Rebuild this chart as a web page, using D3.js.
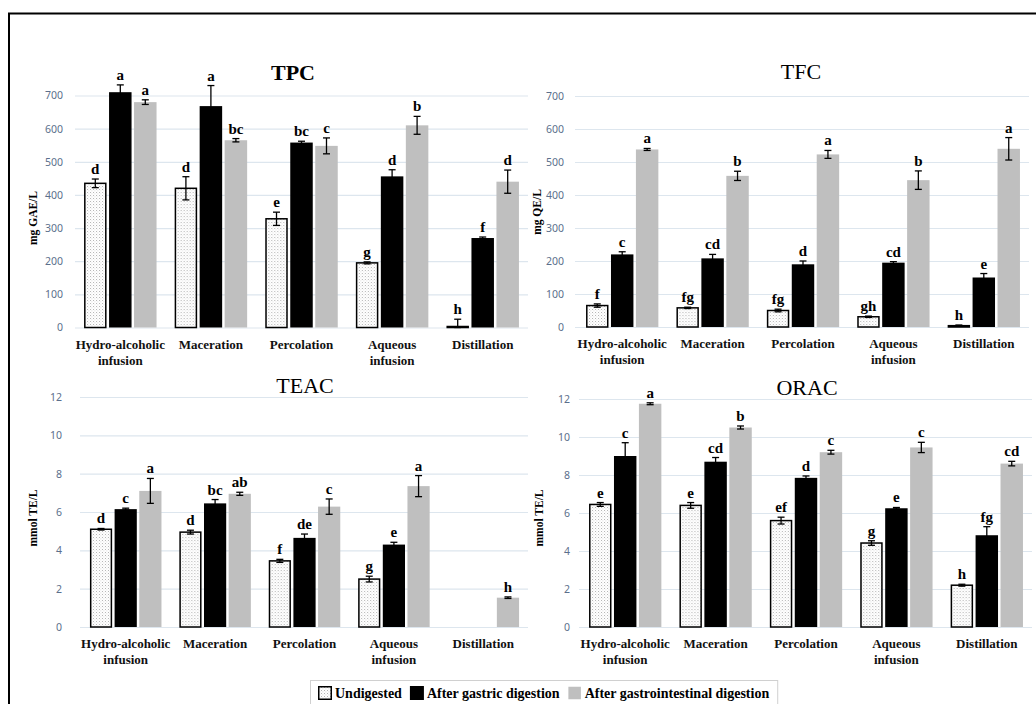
<!DOCTYPE html>
<html>
<head>
<meta charset="utf-8">
<script src="https://cdn.jsdelivr.net/npm/d3@7/dist/d3.min.js"></script>
<style>
  body { margin: 0; background: #fff; }
  svg { display: block; }
</style>
</head>
<body>
<div id="chart"></div>
<script>
// x categories (each as label lines)
var categories = [['Hydro-alcoholic', 'infusion'], ['Maceration'], ['Percolation'], ['Aqueous', 'infusion'], ['Distillation']];
var seriesNames = ['Undigested', 'After gastric digestion', 'After gastrointestinal digestion'];

// TPC, mg GAE/L  [undigested, gastric, gastrointestinal] per category
var tpcValues  = [[435, 710, 680], [420, 668, 565], [328, 558, 548], [195, 456, 610], [3, 270, 440]];
var tpcErrors  = [[13, 22, 7], [35, 62, 5], [20, 4, 24], [3, 20, 27], [22, 3, 35]];
var tpcLetters = [['d', 'a', 'a'], ['d', 'a', 'bc'], ['e', 'bc', 'c'], ['g', 'd', 'b'], ['h', 'f', 'd']];
var tpcTicks   = [0, 100, 200, 300, 400, 500, 600, 700];

// TFC, mg QE/L
var tfcValues  = [[65, 220, 538], [58, 208, 458], [50, 190, 523], [31, 195, 445], [4, 150, 540]];
var tfcErrors  = [[5, 8, 3], [2, 12, 14], [4, 10, 12], [2, 3, 28], [2, 12, 34]];
var tfcLetters = [['f', 'c', 'a'], ['fg', 'cd', 'b'], ['fg', 'd', 'a'], ['gh', 'cd', 'b'], ['h', 'e', 'a']];
var tfcTicks   = [0, 100, 200, 300, 400, 500, 600, 700];

// TEAC, mmol TE/L (no value for distillation before gastrointestinal digestion)
var teacValues  = [[5.1, 6.15, 7.1], [4.95, 6.45, 6.95], [3.45, 4.65, 6.28], [2.5, 4.3, 7.35], [null, null, 1.53]];
var teacErrors  = [[0.04, 0.05, 0.65], [0.1, 0.2, 0.08], [0.08, 0.2, 0.4], [0.15, 0.12, 0.55], [0, 0, 0.04]];
var teacLetters = [['d', 'c', 'a'], ['d', 'bc', 'ab'], ['f', 'de', 'c'], ['g', 'e', 'a'], ['', '', 'h']];
var teacTicks   = [0, 2, 4, 6, 8, 10, 12];

// ORAC, mmol TE/L
var oracValues  = [[6.45, 9.0, 11.75], [6.4, 8.7, 10.5], [5.6, 7.85, 9.2], [4.42, 6.25, 9.45], [2.2, 4.83, 8.6]];
var oracErrors  = [[0.1, 0.7, 0.05], [0.15, 0.22, 0.08], [0.18, 0.1, 0.1], [0.12, 0.04, 0.27], [0.05, 0.45, 0.12]];
var oracLetters = [['e', 'c', 'a'], ['e', 'cd', 'b'], ['ef', 'd', 'c'], ['g', 'e', 'c'], ['h', 'fg', 'cd']];
var oracTicks   = [0, 2, 4, 6, 8, 10, 12];

var serif = '"Liberation Serif", "DejaVu Serif", serif';
var sans = '"Noto Sans", "Open Sans", sans-serif';
var barFill = ['url(#dots)', '#000', '#bfbfbf'];

var svg = d3.select('#chart')
            .append('svg')
            .attr('width', 1036)
            .attr('height', 704);

// fine stipple for the undigested bars
var pat = svg.append('defs').append('pattern')
    .attr('id', 'dots')
    .attr('patternUnits', 'userSpaceOnUse')
    .attr('width', 3).attr('height', 3);
pat.append('rect').attr('width', 3).attr('height', 3).attr('fill', '#fff');
pat.append('rect').attr('x', 0).attr('y', 0).attr('width', 1).attr('height', 1).attr('fill', '#b4b4b4');
pat.append('rect').attr('x', 1.5).attr('y', 1.5).attr('width', 0.8).attr('height', 0.8).attr('fill', '#c8c8c8');

// frame round the figure (right and bottom edges fall outside the picture)
svg.append('rect')
    .attr('x', 9).attr('y', 13.5)
    .attr('width', 1040).attr('height', 720)
    .attr('fill', 'none').attr('stroke', '#000').attr('stroke-width', 2);

function drawPanel(p) {
    var g = svg.append('g');

    var x0 = d3.scaleBand()
        .domain(d3.range(categories.length))
        .range(p.xr)
        .paddingInner(0.2)
        .paddingOuter(0.1);
    var x1 = d3.scaleBand()
        .domain(d3.range(seriesNames.length))
        .range([0, x0.bandwidth()])
        .paddingInner(0.1);
    var y = d3.scaleLinear().domain(p.domain).range(p.yr);

    // gridlines + tick labels
    var axis = g.append('g')
        .attr('transform', 'translate(' + p.gridX + ',0)')
        .call(d3.axisLeft(y)
            .tickValues(p.ticks)
            .tickSize(-(p.xr[1] - p.gridX))
            .tickSizeOuter(0)
            .tickPadding(p.pad));
    axis.select('.domain').remove();
    axis.selectAll('.tick line').attr('stroke', '#dde6ee').attr('stroke-width', 1.2);
    axis.selectAll('.tick text')
        .attr('fill', '#5b6f8c')
        .style('font-family', sans)
        .style('font-size', '10.5px');

    // bars
    var groups = g.selectAll('g.cat')
        .data(p.values)
        .enter()
        .append('g')
        .attr('transform', function(d, i) { return 'translate(' + x0(i) + ',0)'; });

    groups.each(function(vals, ci) {
        var gg = d3.select(this);
        vals.forEach(function(v, si) {
            if (v === null) return;
            var bx = x1(si), bw = x1.bandwidth();
            var r = gg.append('rect')
                .attr('x', bx)
                .attr('y', y(v))
                .attr('width', bw)
                .attr('height', y(0) - y(v))
                .attr('fill', barFill[si]);
            if (si === 0) {
                r.attr('x', bx + 0.75).attr('width', bw - 1.5)
                 .attr('stroke', '#000').attr('stroke-width', 1.5);
            }
            var e = p.errors[ci][si];
            var cx = bx + bw / 2;
            var top = y(v + e), bot = y(Math.max(v - e, 0));
            var eg = gg.append('g').attr('stroke', '#000').attr('stroke-width', 1.3);
            eg.append('line').attr('x1', cx).attr('x2', cx).attr('y1', top).attr('y2', bot);
            eg.append('line').attr('x1', cx - 3.5).attr('x2', cx + 3.5).attr('y1', top).attr('y2', top);
            eg.append('line').attr('x1', cx - 3.5).attr('x2', cx + 3.5).attr('y1', bot).attr('y2', bot);

            gg.append('text')
                .attr('x', cx)
                .attr('y', top - 5)
                .attr('text-anchor', 'middle')
                .style('font-family', serif)
                .style('font-weight', 'bold')
                .style('font-size', '15px')
                .text(p.letters[ci][si]);
        });
    });

    // category labels
    groups.each(function(d, ci) {
        var t = d3.select(this).append('text')
            .attr('text-anchor', 'middle')
            .style('font-family', serif)
            .style('font-weight', 'bold')
            .style('font-size', '13px')
            .attr('fill', '#111');
        categories[ci].forEach(function(s, k) {
            t.append('tspan')
                .attr('x', x0.bandwidth() / 2)
                .attr('y', p.yr[0] + 21 + k * 16)
                .text(s);
        });
    });

    // y axis title
    g.append('text')
        .attr('transform', 'translate(' + p.labelX + ',' + p.labelY + ') rotate(-90)')
        .attr('text-anchor', 'middle')
        .style('font-family', serif)
        .style('font-weight', 'bold')
        .style('font-size', '11.5px')
        .text(p.yLabel);

    // panel title
    g.append('text')
        .attr('x', p.titleX)
        .attr('y', p.titleY)
        .attr('text-anchor', 'middle')
        .style('font-family', serif)
        .style('font-weight', p.titleBold ? 'bold' : 'normal')
        .style('font-size', '22px')
        .text(p.title);
}

drawPanel({ title: 'TPC', titleBold: true, titleX: 293, titleY: 80, yLabel: 'mg GAE/L', labelX: 37, labelY: 218,
            values: tpcValues, errors: tpcErrors, letters: tpcLetters, ticks: tpcTicks, domain: [0, 700],
            xr: [75, 528], gridX: 75, pad: 12, yr: [327.5, 95.5] });
drawPanel({ title: 'TFC', titleBold: false, titleX: 801, titleY: 79, yLabel: 'mg QE/L', labelX: 541, labelY: 212,
            values: tfcValues, errors: tfcErrors, letters: tfcLetters, ticks: tfcTicks, domain: [0, 700],
            xr: [577, 1029], gridX: 575, pad: 11, yr: [327, 96] });
drawPanel({ title: 'TEAC', titleBold: false, titleX: 305, titleY: 393, yLabel: 'mmol TE/L', labelX: 37, labelY: 518,
            values: teacValues, errors: teacErrors, letters: teacLetters, ticks: teacTicks, domain: [0, 12],
            xr: [81, 528], gridX: 80, pad: 18, yr: [627, 397] });
drawPanel({ title: 'ORAC', titleBold: false, titleX: 807, titleY: 395, yLabel: 'mmol TE/L', labelX: 543, labelY: 518,
            values: oracValues, errors: oracErrors, letters: oracLetters, ticks: oracTicks, domain: [0, 12],
            xr: [580, 1032], gridX: 579, pad: 9, yr: [627, 399] });

// legend
var leg = svg.append('g');
var legBox = leg.append('rect')
    .attr('y', 680.5).attr('height', 30)
    .attr('fill', '#fff').attr('stroke', '#d0d0d0');
var lx = 318;
seriesNames.forEach(function(name, i) {
    leg.append('rect')
        .attr('x', lx + 0.75).attr('y', 686.75)
        .attr('width', 12.5).attr('height', 12.5)
        .attr('fill', barFill[i])
        .attr('stroke', i === 2 ? 'none' : '#000')
        .attr('stroke-width', 1.5);
    var t = leg.append('text')
        .attr('x', lx + 17)
        .attr('y', 698)
        .style('font-family', serif)
        .style('font-weight', 'bold')
        .style('font-size', '14px')
        .text(name);
    lx += 17 + t.node().getComputedTextLength() + 8;
});
legBox.attr('x', 310.5).attr('width', lx - 310);
</script>
</body>
</html>
